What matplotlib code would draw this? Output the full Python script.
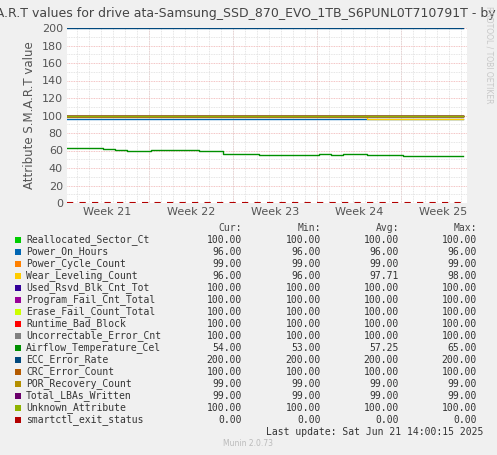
import matplotlib
matplotlib.use("Agg")
import matplotlib.pyplot as plt
import numpy as np

names = ["Reallocated_Sector_Ct", "Power_On_Hours", "Power_Cycle_Count", "Wear_Leveling_Count",
         "Used_Rsvd_Blk_Cnt_Tot", "Program_Fail_Cnt_Total", "Erase_Fail_Count_Total", "Runtime_Bad_Block",
         "Uncorrectable_Error_Cnt", "Airflow_Temperature_Cel", "ECC_Error_Rate", "CRC_Error_Count",
         "POR_Recovery_Count", "Total_LBAs_Written", "Unknown_Attribute", "smartctl_exit_status"]
colors = ["#00CC00", "#0066B3", "#FF8000", "#FFCC00", "#330099", "#990099", "#CCFF00", "#FF0000",
          "#808080", "#008F00", "#00487D", "#B35A00", "#B38F00", "#6B006B", "#8FB300", "#B30000"]
cur = [100, 96, 99, 96, 100, 100, 100, 100, 100, 54, 200, 100, 99, 99, 100, 0]
mins = [100, 96, 99, 96, 100, 100, 100, 100, 100, 53, 200, 100, 99, 99, 100, 0]
avgs = [100, 96, 99, 97.71, 100, 100, 100, 100, 100, 57.25, 200, 100, 99, 99, 100, 0]
maxs = [100, 96, 99, 98, 100, 100, 100, 100, 100, 65, 200, 100, 99, 99, 100, 0]

days = np.arange(34)
temperature = [63, 63, 63, 62, 61, 60, 60, 60.5, 60.5, 60.5, 60.5, 59.5, 59.5, 56, 55.5, 55.5, 55,
               55, 55, 55, 55, 56, 55, 56, 55.5, 55, 55, 54.5, 54, 54, 54, 54, 54, 54]
wear = [98] * 25 + [96] * 9
week_labels = ["Week 21", "Week 22", "Week 23", "Week 24", "Week 25"]
week_centers = [3.3, 10.3, 17.3, 24.3, 31.3]
week_bounds = [6.8, 13.8, 20.8, 27.8]
xmax = 33.3

W, H = 497, 455
fig = plt.figure(figsize=(W / 100, H / 100), dpi=100, facecolor="#F0F0F0")
ax = fig.add_axes([67 / W, (H - 203) / H, 400 / W, 175 / H], facecolor="white")

for i, n in enumerate(names):
    if n == "Airflow_Temperature_Cel":
        y = temperature
    elif n == "Wear_Leveling_Count":
        y = wear
    else:
        y = [cur[i]] * len(days)
    if n == "smartctl_exit_status":
        ax.plot(days, y, color=colors[i], lw=1.5, ls=(0, (3, 3)), drawstyle="steps-post", zorder=3)
    else:
        ax.plot(days, y, color=colors[i], lw=1, drawstyle="steps-post", zorder=3)

ax.set_xlim(0, xmax)
ax.set_ylim(0, 200)
ax.set_yticks(range(0, 201, 20))
ax.set_yticks(range(0, 201, 10), minor=True)
ax.set_xticks(week_centers)
ax.set_xticklabels(week_labels)
ax.set_xticks(np.arange(0.8, xmax, 1), minor=True)
ax.grid(which="minor", color="#DDDDDD", ls=(0, (1, 1)), lw=0.6)
ax.grid(which="major", axis="y", color="#F0B0B0", ls=(0, (1, 1)), lw=0.6)
for b in week_bounds:
    ax.axvline(b, color="#F0B0B0", ls=(0, (1, 1)), lw=0.6, zorder=1)
ax.xaxis.grid(False, which="major")
for s in ax.spines.values():
    s.set_visible(False)
ax.tick_params(which="both", length=0, labelsize=8, colors="#555555", pad=3)
ax.set_ylabel("Attribute S.M.A.R.T value", fontsize=8.5, color="#555555")

fig.text(-0.062, 1 - 14 / H, "S.M.A.R.T values for drive ata-Samsung_SSD_870_EVO_1TB_S6PUNL0T710791T - by month",
         fontsize=9, color="#444444", va="center", ha="left")
fig.text(489 / W, 1 - 55 / H, "RRDTOOL / TOBI OETIKER", rotation=270, fontsize=5.5, color="#C8C8C8",
         ha="center", va="center")

mono = "DejaVu Sans Mono"
col_r = [242, 321, 399, 477]
for x, h in zip(col_r, ["Cur:", "Min:", "Avg:", "Max:"]):
    fig.text(x / W, 1 - 228 / H, h, fontsize=7, family=mono, color="#444444", ha="right", va="center")
for i, n in enumerate(names):
    yy = 1 - (240 + 12 * i) / H
    fig.patches.append(plt.Rectangle((15 / W, yy - 2.5 / H), 6 / W, 6 / H, transform=fig.transFigure,
                                     facecolor=colors[i], edgecolor="none"))
    fig.text(26 / W, yy, n, fontsize=7, family=mono, color="#333333", va="center")
    for x, v in zip(col_r, [cur[i], mins[i], avgs[i], maxs[i]]):
        fig.text(x / W, yy, f"{v:.2f}", fontsize=7, family=mono, color="#333333", ha="right", va="center")
fig.text(483 / W, 1 - 432 / H, "Last update: Sat Jun 21 14:00:15 2025", fontsize=7, family=mono,
         color="#333333", ha="right", va="center")
fig.text(248 / W, 1 - 443 / H, "Munin 2.0.73", fontsize=5.5, color="#BBBBBB", ha="center", va="center")

fig.savefig("out.png", dpi=100, facecolor=fig.get_facecolor())
